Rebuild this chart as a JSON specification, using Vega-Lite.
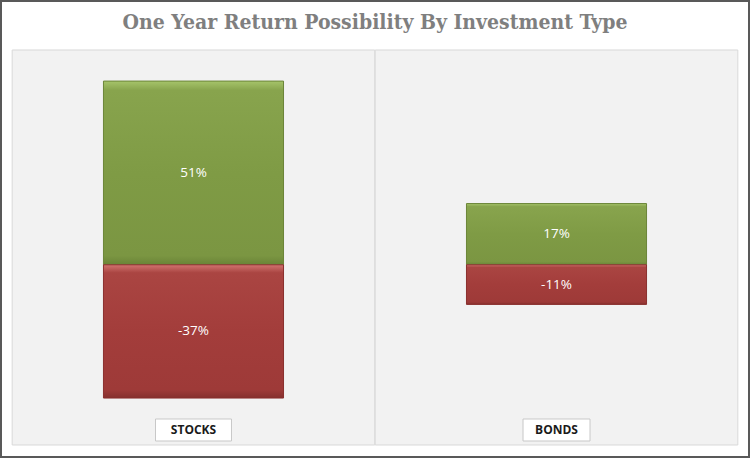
{
  "$schema": "https://vega.github.io/schema/vega-lite/v6.json",
  "width": 750,
  "height": 458,
  "autosize": {"type": "fit", "contains": "padding"},
  "padding": 0,
  "background": "white",
  "config": {"view": {"stroke": "#595959", "strokeWidth": 4}},
  "datasets": {
    "returns": [
      {"type": "STOCKS", "kind": "Gain", "value": 51},
      {"type": "STOCKS", "kind": "Loss", "value": -37},
      {"type": "BONDS", "kind": "Gain", "value": 17},
      {"type": "BONDS", "kind": "Loss", "value": -11}
    ],
    "types": [{"type": "STOCKS"}, {"type": "BONDS"}]
  },
  "encoding": {
    "x": {
      "field": "type",
      "type": "nominal",
      "axis": null,
      "scale": {"domain": ["STOCKS", "BONDS"], "paddingInner": 0.504, "paddingOuter": 0.285}
    }
  },
  "layer": [
    {
      "data": {"name": "types"},
      "mark": {"type": "bar", "width": {"band": 2.014}, "fill": "#f2f2f2", "stroke": "#d9d9d9", "strokeWidth": 1},
      "encoding": {
        "y": {"datum": 59.63, "type": "quantitative", "axis": null, "scale": {"domain": [-53.64, 73.51], "nice": false, "zero": false}},
        "y2": {"datum": -50.03}
      }
    },
    {
      "data": {"name": "returns"},
      "transform": [{"filter": "datum.kind === 'Gain'"}],
      "mark": {
        "type": "bar",
        "stroke": "#6b8538",
        "strokeWidth": 1,
        "fill": {
          "gradient": "linear", "x1": 0, "y1": 0, "x2": 0, "y2": 1,
          "stops": [
            {"offset": 0, "color": "#a6c46a"},
            {"offset": 0.05, "color": "#88a44d"},
            {"offset": 0.5, "color": "#7f9b45"},
            {"offset": 0.95, "color": "#7b9642"},
            {"offset": 1, "color": "#6a8437"}
          ]
        }
      },
      "encoding": {
        "y": {"field": "value", "type": "quantitative"},
        "y2": {"datum": 0}
      }
    },
    {
      "data": {"name": "returns"},
      "transform": [{"filter": "datum.kind === 'Loss'"}],
      "mark": {
        "type": "bar",
        "stroke": "#8a302e",
        "strokeWidth": 1,
        "fill": {
          "gradient": "linear", "x1": 0, "y1": 0, "x2": 0, "y2": 1,
          "stops": [
            {"offset": 0, "color": "#d27470"},
            {"offset": 0.06, "color": "#aa4542"},
            {"offset": 0.5, "color": "#a33d3b"},
            {"offset": 0.94, "color": "#9e3a38"},
            {"offset": 1, "color": "#85302e"}
          ]
        }
      },
      "encoding": {
        "y": {"field": "value", "type": "quantitative"},
        "y2": {"datum": 0}
      }
    },
    {
      "data": {"name": "returns"},
      "transform": [
        {"calculate": "datum.value / 2", "as": "mid"},
        {"calculate": "datum.value + '%'", "as": "label"}
      ],
      "mark": {"type": "text", "font": "Open Sans", "fontSize": 13.5, "color": "white", "baseline": "middle", "align": "center"},
      "encoding": {
        "y": {"field": "mid", "type": "quantitative"},
        "text": {"field": "label"}
      }
    },
    {
      "data": {"name": "types"},
      "transform": [{"filter": "datum.type === 'STOCKS'"}],
      "mark": {"type": "bar", "width": {"band": 0.422}, "fill": "white", "stroke": "#c8c8c8", "strokeWidth": 1},
      "encoding": {"y": {"datum": -42.81, "type": "quantitative"}, "y2": {"datum": -48.92}}
    },
    {
      "data": {"name": "types"},
      "transform": [{"filter": "datum.type === 'BONDS'"}],
      "mark": {"type": "bar", "width": {"band": 0.372}, "fill": "white", "stroke": "#c8c8c8", "strokeWidth": 1},
      "encoding": {"y": {"datum": -42.81, "type": "quantitative"}, "y2": {"datum": -48.92}}
    },
    {
      "data": {"name": "types"},
      "mark": {"type": "text", "font": "Open Sans", "fontSize": 12, "fontWeight": "bold", "color": "#1a1a1a", "baseline": "middle", "align": "center"},
      "encoding": {"y": {"datum": -45.86, "type": "quantitative"}, "text": {"field": "type"}}
    },
    {
      "data": {"name": "types"},
      "transform": [{"filter": "datum.type === 'STOCKS'"}],
      "mark": {"type": "text", "font": "DejaVu Serif Condensed", "fontSize": 21, "fontWeight": "bold", "color": "#7f7f7f", "baseline": "alphabetic", "align": "center", "dx": 181.5},
      "encoding": {"y": {"datum": 65.4, "type": "quantitative"}, "text": {"value": "One Year Return Possibility By Investment Type"}}
    }
  ]
}
